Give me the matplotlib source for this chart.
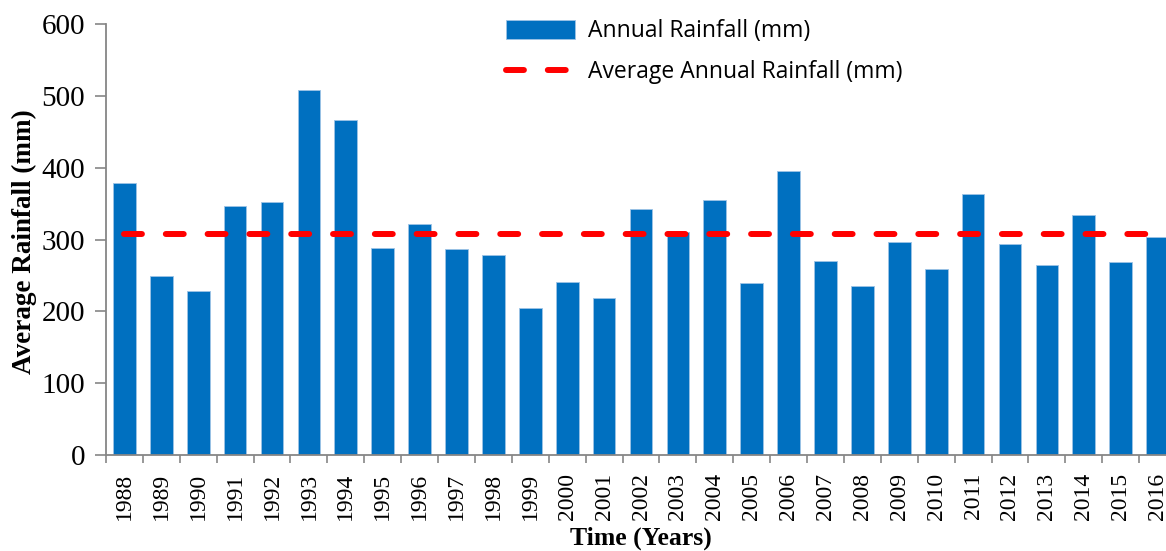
import matplotlib.pyplot as plt
import numpy as np

years = [str(y) for y in range(1988, 2017)]
rainfall = [379, 249, 228, 346, 352, 508, 466, 288, 322, 287, 278, 205, 241, 218,
            342, 310, 355, 240, 395, 270, 235, 297, 259, 363, 294, 264, 334, 268, 303]
average_rainfall = 307

bar_color = "#0070C0"
axis_color = "#868686"

fig = plt.figure(figsize=(11.66, 5.51), dpi=100)
ax = fig.add_axes([106 / 1166, 96 / 551, 1070 / 1166, 431 / 551])

x = np.arange(len(years))
bars = ax.bar(x, rainfall, width=0.615, color=bar_color, edgecolor="#9DC3E6",
              linewidth=0.6, label="Annual Rainfall (mm)", zorder=2)
line, = ax.plot(x, [average_rainfall] * len(years), color="#FF0000", linewidth=4.3,
                linestyle=(0, (3, 4)), dash_capstyle="round",
                label="Average Annual Rainfall (mm)", zorder=3)

ax.set_xlim(-0.5, len(years) - 0.5)
ax.set_ylim(0, 600)
ax.set_yticks(range(0, 601, 100))

ax.set_xticks(x)
ax.set_xticklabels(years, rotation=90, fontsize=17, family="Liberation Serif")
ax.set_xticks(np.arange(-0.5, len(years), 1), minor=True)
ax.tick_params(axis="x", which="major", length=0, pad=13)
ax.tick_params(axis="x", which="minor", length=6, width=1.2, color=axis_color, direction="out")
ax.tick_params(axis="y", length=8, width=1.2, color=axis_color, direction="out", pad=7)
for label in ax.get_yticklabels():
    label.set_fontsize(21)
    label.set_family("Liberation Serif")

for side in ["top", "right"]:
    ax.spines[side].set_visible(False)
for side in ["left", "bottom"]:
    ax.spines[side].set_color(axis_color)
    ax.spines[side].set_linewidth(1.3)

fig.text(24 / 1166, 1 - 242 / 551, "Average Rainfall (mm)", fontsize=19.5, fontweight="bold",
         family="Liberation Serif", rotation=90, ha="center", va="center")
fig.text(641 / 1166, 1 - 538 / 551, "Time (Years)", fontsize=18.5, fontweight="bold",
         family="Liberation Serif", ha="center", va="center")

ax.legend(handles=[bars, line], loc="upper left", bbox_to_anchor=(497 / 1166, 1 - 10 / 551),
          bbox_transform=fig.transFigure, frameon=False,
          prop={"family": "Open Sans", "size": 16.5},
          handlelength=3.0, handleheight=0.9, handletextpad=0.55, labelspacing=0.75,
          borderaxespad=0.0)

fig.savefig("out.png", dpi=100)
